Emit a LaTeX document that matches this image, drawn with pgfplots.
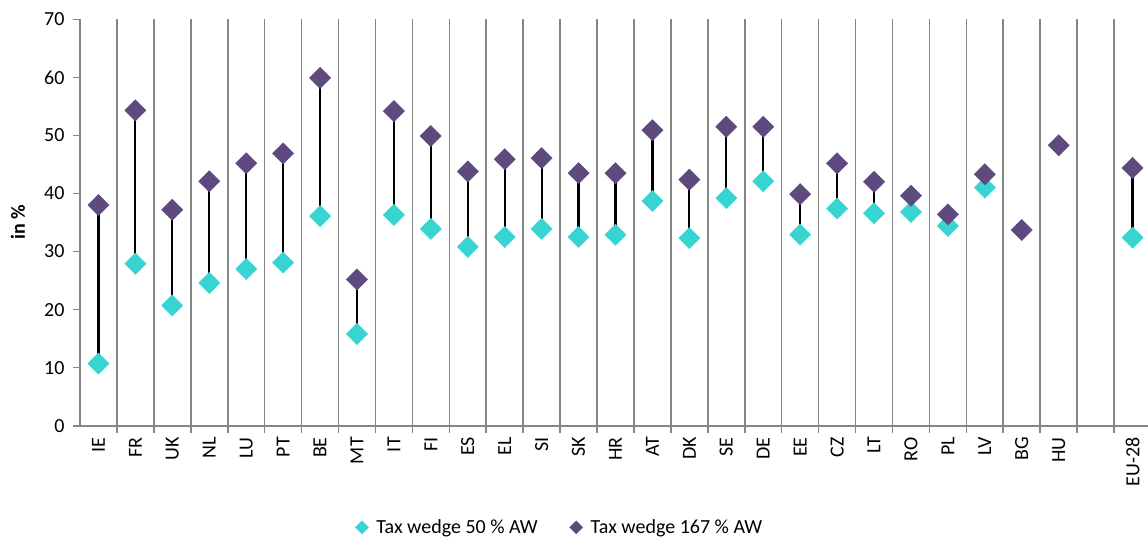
\documentclass[border=0pt]{standalone}
\usepackage{pgfplots}
\pgfplotsset{compat=1.18}
\usepackage{pgfplotstable}
\usepackage{fontspec}
\setmainfont{Carlito}
\definecolor{axgray}{RGB}{134,134,134}
\definecolor{cyanm}{RGB}{55,212,210}
\definecolor{purpm}{RGB}{94,74,126}
\pgfplotstableread{
x low high
0 10.7 38.0
1 27.9 54.3
2 20.7 37.2
3 24.6 42.1
4 27.0 45.2
5 28.1 46.9
6 36.1 59.9
7 15.8 25.2
8 36.3 54.2
9 33.9 49.9
10 30.8 43.8
11 32.5 45.9
12 33.9 46.1
13 32.5 43.5
14 32.9 43.5
15 38.7 50.9
16 32.3 42.4
17 39.2 51.5
18 42.1 51.5
19 32.9 39.9
20 37.4 45.2
21 36.6 42.0
22 36.8 39.6
23 34.4 36.4
24 41.0 43.3
25 nan 33.7
26 nan 48.3
28 32.4 44.4
}\datatable
\begin{document}
\begin{tikzpicture}
\path[use as bounding box] (0,0) rectangle (1148pt,542pt);
\begin{axis}[
  at={(80pt,116.3pt)}, anchor=south west,
  scale only axis, width=1071pt, height=406.4pt,
  xmin=-0.5, xmax=28.5, ymin=0, ymax=70,
  axis x line=bottom, axis y line=left,
  axis line style={-, draw=axgray, line width=1.6pt},
  font=\fontsize{20}{24}\selectfont,
  /pgf/number format/assume math mode=true,
  tick align=outside,
  major tick length=7pt,
  tick style={draw=axgray, line width=1.6pt},
  xtick={0.5,1.5,...,27.5},
  xticklabels={},
  xmajorgrids,
  major grid style={draw=axgray, line width=1.6pt},
  extra x ticks={0,1,...,26,28},
  extra x tick labels={IE,FR,UK,NL,LU,PT,BE,MT,IT,FI,ES,EL,SI,SK,HR,AT,DK,SE,DE,EE,CZ,LT,RO,PL,LV,BG,HU,EU-28},
  extra x tick style={major tick length=0pt, grid=none},
  xticklabel style={yshift=-8pt, rotate=90, anchor=east, font=\fontsize{20}{24}\selectfont},
  ytick={0,10,...,70},
  yticklabel style={font=\fontsize{20}{24}\selectfont, xshift=-5pt},
  ylabel={\bfseries in \%},
  ylabel style={at={(axis description cs:-0.058,0.5)}, anchor=center, font=\fontsize{20}{24}\selectfont},
  legend style={at={(0.448,-0.25)}, anchor=center, draw=none, legend columns=2,
    font=\fontsize{20}{24}\selectfont,
    /tikz/every even column/.append style={column sep=30pt}},
  clip=false,
]
\addplot[black, line width=2.2pt, forget plot, unbounded coords=jump] coordinates {
(0,10.7) (0,38.0) (0,nan)
(1,27.9) (1,54.3) (1,nan)
(2,20.7) (2,37.2) (2,nan)
(3,24.6) (3,42.1) (3,nan)
(4,27.0) (4,45.2) (4,nan)
(5,28.1) (5,46.9) (5,nan)
(6,36.1) (6,59.9) (6,nan)
(7,15.8) (7,25.2) (7,nan)
(8,36.3) (8,54.2) (8,nan)
(9,33.9) (9,49.9) (9,nan)
(10,30.8) (10,43.8) (10,nan)
(11,32.5) (11,45.9) (11,nan)
(12,33.9) (12,46.1) (12,nan)
(13,32.5) (13,43.5) (13,nan)
(14,32.9) (14,43.5) (14,nan)
(15,38.7) (15,50.9) (15,nan)
(16,32.3) (16,42.4) (16,nan)
(17,39.2) (17,51.5) (17,nan)
(18,42.1) (18,51.5) (18,nan)
(19,32.9) (19,39.9) (19,nan)
(20,37.4) (20,45.2) (20,nan)
(21,36.6) (21,42.0) (21,nan)
(22,36.8) (22,39.6) (22,nan)
(23,34.4) (23,36.4) (23,nan)
(24,41.0) (24,43.3) (24,nan)
(28,32.4) (28,44.4)
};
\addplot[only marks, mark=square*, mark size=7.5pt, mark options={rotate=45, draw=cyanm, fill=cyanm},
  legend image post style={mark size=4.6pt}, unbounded coords=discard]
  table[x=x, y=low] {\datatable};
\addlegendentry{\hspace*{6pt}Tax wedge 50 \% AW}
\addplot[only marks, mark=square*, mark size=7.5pt, mark options={rotate=45, draw=purpm, fill=purpm},
  legend image post style={mark size=4.6pt}]
  table[x=x, y=high] {\datatable};
\addlegendentry{\hspace*{6pt}Tax wedge 167 \% AW}
\end{axis}
\end{tikzpicture}
\end{document}
